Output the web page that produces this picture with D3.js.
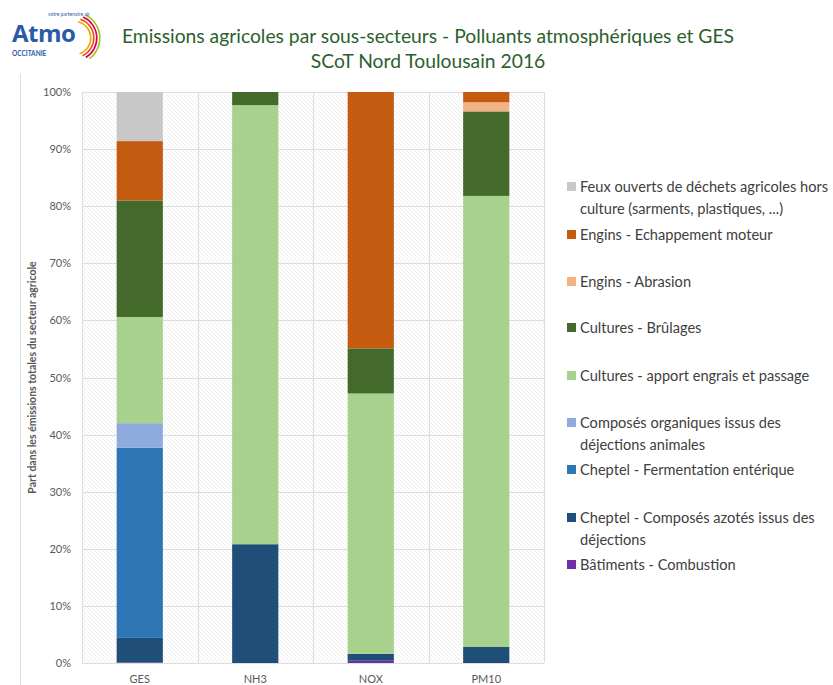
<!DOCTYPE html>
<html lang="fr">
<head>
<meta charset="utf-8">
<script src="https://cdn.jsdelivr.net/npm/d3@7/dist/d3.min.js"></script>
<style>
  html, body { margin: 0; padding: 0; background: #fff; }
  svg { display: block; font-family: Lato, "Open Sans", sans-serif; }
</style>
</head>
<body>
<svg id="chart" width="833" height="685"></svg>
<script>
// Pollutant categories on the x axis
const categories = ["GES", "NH3", "NOX", "PM10"];

// Sub-sectors, stacked from bottom to top
const sectors = [
  "Bâtiments - Combustion",
  "Cheptel - Composés azotés issus des déjections",
  "Cheptel - Fermentation entérique",
  "Composés organiques issus des déjections animales",
  "Cultures - apport engrais et passage",
  "Cultures - Brûlages",
  "Engins - Abrasion",
  "Engins - Echappement moteur",
  "Feux ouverts de déchets agricoles hors culture (sarments, plastiques, ...)"
];
const sectorColors = ["#7030a0", "#1f4e79", "#2e75b6", "#8faadc", "#a9d18e", "#446a2b", "#f4b183", "#c55a11", "#c8c8c8"];

// Share (%) of each sub-sector, one array per category, in sector order
const valuesGES  = [0.1, 4.3, 33.3, 4.3, 18.6, 20.4, 0.0, 10.4, 8.6];
const valuesNH3  = [0.0, 20.8, 0.0, 0.0, 76.9, 2.3, 0.0, 0.0, 0.0];
const valuesNOX  = [0.4, 1.2, 0.0, 0.0, 45.6, 7.9, 0.0, 44.9, 0.0];
const valuesPM10 = [0.0, 2.8, 0.0, 0.0, 79.0, 14.8, 1.6, 1.8, 0.0];

const yTicks = [0, 10, 20, 30, 40, 50, 60, 70, 80, 90, 100];

// Legend rows: label lines, top to bottom
const legendOrder = [8, 7, 6, 5, 4, 3, 2, 1, 0];
const legendLines = [
  ["Feux ouverts de déchets agricoles hors", "culture (sarments, plastiques, ...)"],
  ["Engins - Echappement moteur"],
  ["Engins - Abrasion"],
  ["Cultures - Brûlages"],
  ["Cultures - apport engrais et passage"],
  ["Composés organiques issus des", "déjections animales"],
  ["Cheptel - Fermentation entérique"],
  ["Cheptel - Composés azotés issus des", "déjections"],
  ["Bâtiments - Combustion"]
];

const rows = [valuesGES, valuesNH3, valuesNOX, valuesPM10].map((vals, i) => {
  const r = { cat: categories[i] };
  sectors.forEach((s, j) => r[s] = vals[j]);
  return r;
});

const svg = d3.select("#chart");
const W = 833, H = 685;
const plot = { left: 82, right: 544, top: 92, bottom: 663 };

const x = d3.scaleBand().domain(categories).range([plot.left, plot.right]).paddingInner(0.6).paddingOuter(0.3);
const xBand = d3.scaleBand().domain(categories).range([plot.left, plot.right]);
const y = d3.scaleLinear().domain([0, 100]).range([plot.bottom, plot.top]);

// Hatched plot background
const defs = svg.append("defs");
const pat = defs.append("pattern")
  .attr("id", "hatch").attr("patternUnits", "userSpaceOnUse")
  .attr("width", 4).attr("height", 4);
pat.append("rect").attr("width", 4).attr("height", 4).attr("fill", "#ffffff");
pat.append("path").attr("d", "M-1,-1 L5,5 M-1,3 L1,5 M3,-1 L5,1")
  .attr("stroke", "#ececec").attr("stroke-width", 0.9);

// Frame line on the left edge
svg.append("line").attr("x1", 20.5).attr("x2", 20.5).attr("y1", 74).attr("y2", H)
  .attr("stroke", "#dedede").attr("stroke-width", 1);

svg.append("rect")
  .attr("x", plot.left).attr("y", plot.top)
  .attr("width", plot.right - plot.left).attr("height", plot.bottom - plot.top)
  .attr("fill", "url(#hatch)");

// Grid lines
const grid = svg.append("g").attr("stroke", "#dedede").attr("stroke-width", 1.2);
grid.selectAll("line.h").data(yTicks).join("line")
  .attr("x1", plot.left).attr("x2", plot.right)
  .attr("y1", d => Math.round(y(d)) + 0.5).attr("y2", d => Math.round(y(d)) + 0.5);
const vBounds = [plot.left].concat(categories.map(c => xBand(c) + xBand.bandwidth()));
grid.selectAll("line.v").data(vBounds).join("line")
  .attr("x1", d => Math.round(d) + 0.5).attr("x2", d => Math.round(d) + 0.5)
  .attr("y1", plot.top).attr("y2", plot.bottom);

// Stacked bars
const stack = d3.stack().keys(sectors)(rows);
svg.append("g").selectAll("g").data(stack).join("g")
  .attr("fill", (d, i) => sectorColors[i])
  .selectAll("rect").data(d => d).join("rect")
  .attr("x", d => x(d.data.cat))
  .attr("width", x.bandwidth())
  .attr("y", d => y(d[1]))
  .attr("height", d => Math.max(0, y(d[0]) - y(d[1])));

// Y axis labels
const yAxis = d3.axisLeft(y).tickValues(yTicks).tickFormat(d => d + "%").tickSize(0).tickPadding(11);
const ya = svg.append("g").attr("transform", `translate(${plot.left},0)`).call(yAxis);
ya.select(".domain").remove();
ya.selectAll("text").attr("font-size", 11).attr("fill", "#595959").attr("font-family", "Lato, 'Open Sans', sans-serif");

// X axis labels
const xAxis = d3.axisBottom(xBand).tickSize(0).tickPadding(12);
const xa = svg.append("g").attr("transform", `translate(0,${plot.bottom})`).call(xAxis);
xa.select(".domain").remove();
xa.selectAll("text").attr("font-size", 11).attr("fill", "#595959").attr("font-family", "Lato, 'Open Sans', sans-serif");

// Y axis title
svg.append("text")
  .attr("transform", `translate(36,${(plot.top + plot.bottom) / 2}) rotate(-90)`)
  .attr("text-anchor", "middle").attr("font-size", 10.5).attr("font-weight", "bold")
  .attr("fill", "#595959")
  .text("Part dans les émissions totales du secteur agricole");

// Title
const title = svg.append("g").attr("fill", "#2c5e2e").attr("font-size", 19.3).attr("text-anchor", "middle");
title.append("text").attr("x", 428).attr("y", 43).text("Emissions agricoles par sous-secteurs - Polluants atmosphériques et GES");
title.append("text").attr("x", 428).attr("y", 68).text("SCoT Nord Toulousain 2016");

// Legend
const legendTops = [192, 240, 287, 333, 381, 428, 475, 523, 570];
const lg = svg.append("g");
legendOrder.forEach((si, k) => {
  const ty = legendTops[k];
  lg.append("rect").attr("x", 567).attr("y", ty - 10).attr("width", 9).attr("height", 9).attr("fill", sectorColors[si]);
  legendLines[k].forEach((line, li) => {
    lg.append("text").attr("x", 580).attr("y", ty + li * 21.5)
      .attr("font-size", 14.6).attr("fill", "#404040").text(line);
  });
});

// Logo
const logo = svg.append("g");
const arcColors = ["#f2a900", "#e94e1b", "#d7004b", "#9fc31c"];
const arcGen = d3.arc();
arcColors.forEach((c, i) => {
  logo.append("path")
    .attr("transform", "translate(74,38)")
    .attr("d", arcGen({ innerRadius: 16 + i * 3, outerRadius: 17.6 + i * 3, startAngle: 0.25 + i * 0.08, endAngle: 2.8 - i * 0.1 }))
    .attr("fill", c);
});
logo.append("text").attr("x", 12).attr("y", 42).attr("font-size", 24).attr("font-weight", "bold")
  .attr("fill", "#2b5aa6").attr("font-family", "'Open Sans', sans-serif").attr("letter-spacing", -0.5).text("Atmo");
logo.append("text").attr("x", 48).attr("y", 16).attr("font-size", 5).attr("fill", "#2b5aa6").text("votre partenaire air");
logo.append("text").attr("x", 12).attr("y", 56).attr("font-size", 6.5).attr("font-weight", "bold")
  .attr("fill", "#2b5aa6").text("OCCITANIE");
</script>
</body>
</html>
